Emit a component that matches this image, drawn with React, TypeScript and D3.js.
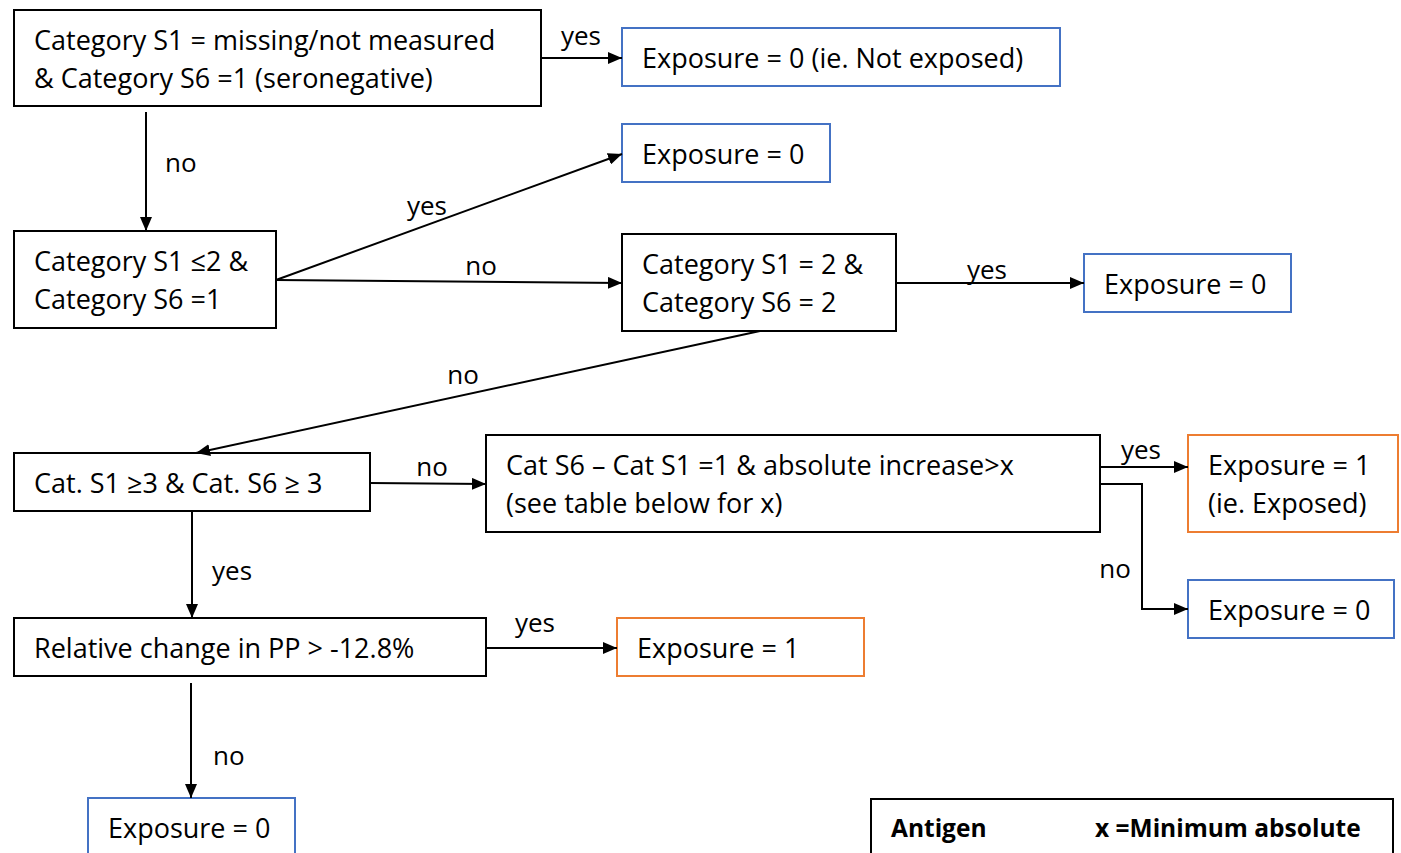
import * as d3 from "d3";
import React, { useRef, useEffect } from "react";

// node ids, texts and outline colours of the flowchart
const nodeIds = ["q1", "e1", "e2", "q2", "q3", "e3", "q4", "q5", "e4", "e5", "q6", "e6", "e7", "tbl"];
const nodeLines = [
  ["Category S1 = missing/not measured", "& Category S6 =1 (seronegative)"],
  ["Exposure = 0 (ie. Not exposed)"],
  ["Exposure = 0"],
  ["Category S1 \u22642 &", "Category S6 =1"],
  ["Category S1 = 2 &", "Category S6 = 2"],
  ["Exposure = 0"],
  ["Cat. S1 \u22653 & Cat. S6 \u2265 3"],
  ["Cat S6 \u2013 Cat S1 =1 & absolute increase>x", "(see table below for x)"],
  ["Exposure = 1", "(ie. Exposed)"],
  ["Exposure = 0"],
  ["Relative change in PP > -12.8%"],
  ["Exposure = 1"],
  ["Exposure = 0"],
  [],
];
const nodeKind = ["q", "no", "no", "q", "q", "no", "q", "q", "yes", "no", "q", "yes", "no", "q"];

// table header (cut off at the bottom of the picture)
const tableHeader = ["Antigen", "x =Minimum absolute"];

// edges: from, to, label
const edgeFrom = ["q1", "q1", "q2", "q2", "q3", "q3", "q4", "q4", "q5", "q5", "q6", "q6"];
const edgeTo = ["e1", "q2", "e2", "q3", "e3", "q4", "q5", "q6", "e4", "e5", "e6", "e7"];
const edgeLabel = ["yes", "no", "yes", "no", "yes", "no", "no", "yes", "yes", "no", "yes", "no"];

// layout (pixel boxes) for each node: x, y, w, h
const layout: Record<string, [number, number, number, number]> = {
  q1: [14, 10, 527, 96],
  e1: [622, 28, 438, 58],
  e2: [622, 124, 208, 58],
  q2: [14, 231, 262, 97],
  q3: [622, 234, 274, 97],
  e3: [1084, 254, 207, 58],
  q4: [14, 453, 356, 58],
  q5: [486, 435, 614, 97],
  e4: [1188, 435, 210, 97],
  e5: [1188, 580, 206, 58],
  q6: [14, 618, 472, 58],
  e6: [617, 618, 247, 58],
  e7: [88, 798, 207, 70],
  tbl: [871, 799, 522, 70],
};

// edge routes (points) and label anchors
const edgeRoute: [number, number][][] = [
  [[541, 58], [622, 58]],
  [[146, 112], [146, 231]],
  [[276, 280], [622, 154]],
  [[276, 280], [622, 283]],
  [[896, 283], [1084, 283]],
  [[760, 331], [196, 453]],
  [[370, 483], [486, 484]],
  [[192, 511], [192, 618]],
  [[1100, 467], [1188, 467]],
  [[1100, 484], [1142, 484], [1142, 609], [1188, 609]],
  [[486, 648], [617, 648]],
  [[191, 683], [191, 798]],
];
const labelPos: [number, number, string][] = [
  [581, 36, "middle"],
  [165, 163, "start"],
  [427, 206, "middle"],
  [481, 266, "middle"],
  [987, 270, "middle"],
  [463, 375, "middle"],
  [432, 467, "middle"],
  [212, 571, "start"],
  [1141, 450, "middle"],
  [1115, 569, "middle"],
  [535, 623, "middle"],
  [213, 756, "start"],
];

const colors: Record<string, string> = { q: "#000000", no: "#4472C4", yes: "#ED7D31" };
const FONT = "'Open Sans', Lato, sans-serif";

const App = () => {
  const svgRef = useRef<SVGSVGElement>(null);

  useEffect(() => {
    const svg = d3.select(svgRef.current);
    svg.selectAll("*").remove();

    svg
      .append("defs")
      .append("marker")
      .attr("id", "arrow")
      .attr("viewBox", "0 0 14 12")
      .attr("refX", 14)
      .attr("refY", 6)
      .attr("markerWidth", 14)
      .attr("markerHeight", 12)
      .attr("markerUnits", "userSpaceOnUse")
      .attr("orient", "auto")
      .append("path")
      .attr("d", "M0,0L14,6L0,12Z")
      .attr("fill", "#000");

    const nodes = nodeIds.map((id, i) => ({ id, lines: nodeLines[i], kind: nodeKind[i], box: layout[id] }));

    const g = svg.selectAll("g.node").data(nodes).join("g").attr("class", "node");
    g.append("rect")
      .attr("x", (d) => d.box[0])
      .attr("y", (d) => d.box[1])
      .attr("width", (d) => d.box[2])
      .attr("height", (d) => d.box[3])
      .attr("fill", "#fff")
      .attr("stroke", (d) => colors[d.kind])
      .attr("stroke-width", 2);

    g.each(function (d) {
      const n = d.lines.length;
      const cy = n > 1 ? d.box[1] + d.box[3] / 2 : d.box[1] + 29;
      d3.select(this)
        .selectAll("text")
        .data(d.lines)
        .join("text")
        .attr("x", d.box[0] + 20)
        .attr("y", (_, j) => cy + 1.5 + (j - (n - 1) / 2) * 38)
        .attr("dy", "0.35em")
        .attr("font-family", FONT)
        .attr("font-size", 27)
        .attr("fill", "#000")
        .text((t) => t);
    });

    // table header
    const tb = layout.tbl;
    svg
      .selectAll("text.th")
      .data(tableHeader)
      .join("text")
      .attr("class", "th")
      .attr("x", (_, i) => tb[0] + 20 + i * 204)
      .attr("y", tb[1] + 29)
      .attr("dy", "0.35em")
      .attr("font-family", FONT)
      .attr("font-weight", "bold")
      .attr("font-size", 24.5)
      .text((t) => t);

    const line = d3.line();
    svg
      .selectAll("path.edge")
      .data(edgeRoute)
      .join("path")
      .attr("class", "edge")
      .attr("d", (d) => line(d))
      .attr("fill", "none")
      .attr("stroke", "#000")
      .attr("stroke-width", 2)
      .attr("marker-end", "url(#arrow)");

    svg
      .selectAll("text.lbl")
      .data(edgeLabel)
      .join("text")
      .attr("class", "lbl")
      .attr("x", (_, i) => labelPos[i][0])
      .attr("y", (_, i) => labelPos[i][1])
      .attr("dy", "0.35em")
      .attr("text-anchor", (_, i) => labelPos[i][2])
      .attr("font-family", FONT)
      .attr("font-size", 26)
      .text((t) => t);
  }, []);

  return (
    <div style={{ position: "absolute", left: 0, top: 0, width: 1401, height: 853, overflow: "hidden", background: "#fff" }}>
      <svg ref={svgRef} width={1401} height={853} />
    </div>
  );
};

export default App;
